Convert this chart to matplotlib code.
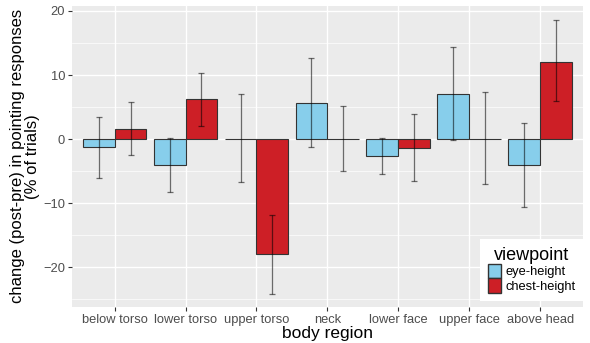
import numpy as np
import matplotlib.pyplot as plt
from matplotlib.patches import Patch

plt.rcParams['font.family'] = ['Liberation Sans', 'DejaVu Sans']

regions = ["below torso", "lower torso", "upper torso", "neck",
           "lower face", "upper face", "above head"]
eye = [-1.3, -4.1, 0.0, 5.6, -2.7, 7.0, -4.1]
eye_lo = [-6.1, -8.2, -6.7, -1.2, -5.5, -0.2, -10.6]
eye_hi = [3.5, 0.1, 7.0, 12.7, 0.1, 14.3, 2.5]
chest = [1.5, 6.2, -18.0, 0.0, -1.4, 0.0, 12.1]
chest_lo = [-2.5, 2.1, -24.2, -4.9, -6.6, -7.0, 5.9]
chest_hi = [5.8, 10.3, -11.9, 5.2, 3.9, 7.3, 18.6]

eye_col = "#87CEEB"
chest_col = "#CD1F26"

fig = plt.figure(figsize=(5.9, 3.43), dpi=100)
ax = fig.add_axes([0.122, 0.105, 0.866, 0.878])
ax.set_facecolor("#EBEBEB")

x = np.arange(len(regions)) + 1
w = 0.45
for vals, lo, hi, col, off in [(eye, eye_lo, eye_hi, eye_col, -w / 2),
                               (chest, chest_lo, chest_hi, chest_col, w / 2)]:
    vals = np.array(vals)
    ax.bar(x + off, vals, width=w, color=col, edgecolor="#333333",
           linewidth=0.8, zorder=2)
    ax.errorbar(x + off, vals, yerr=[vals - np.array(lo), np.array(hi) - vals],
                fmt="none", ecolor="black", alpha=0.55, elinewidth=0.9,
                capsize=2.2, capthick=0.9, zorder=3)

ax.set_xlim(0.4, 7.6)
ax.set_ylim(-26.2, 20.8)
ax.set_xticks(x)
ax.set_xticklabels(regions)
ax.set_yticks([-20, -10, 0, 10, 20])
ax.set_yticks([-25, -15, -5, 5, 15], minor=True)
ax.grid(which="major", color="white", linewidth=1.0, zorder=0)
ax.grid(which="minor", axis="y", color="white", linewidth=0.5, zorder=0)
ax.set_axisbelow(True)
for s in ax.spines.values():
    s.set_visible(False)
ax.tick_params(which="major", length=3, color="#333333", labelcolor="#4D4D4D",
               labelsize=9.3, pad=2)
ax.tick_params(which="minor", length=0)

ax.set_xlabel("body region", fontsize=12.5, labelpad=0)
ax.set_ylabel("change (post-pre) in pointing responses\n(% of trials)",
              fontsize=12, labelpad=2, linespacing=1.05)

handles = [Patch(facecolor=eye_col, edgecolor="#333333", label="eye-height"),
           Patch(facecolor=chest_col, edgecolor="#333333", label="chest-height")]
leg = fig.legend(handles=handles, title="viewpoint", loc="lower right",
                 bbox_to_anchor=(1.0, 0.105), fontsize=9.3, title_fontsize=13,
                 frameon=True, fancybox=False, framealpha=1, edgecolor="white",
                 handlelength=1.0, handleheight=1.35, handletextpad=0.4,
                 labelspacing=0.0, borderpad=0.6)
leg.get_frame().set_linewidth(0)

fig.savefig("out.png", dpi=100)
